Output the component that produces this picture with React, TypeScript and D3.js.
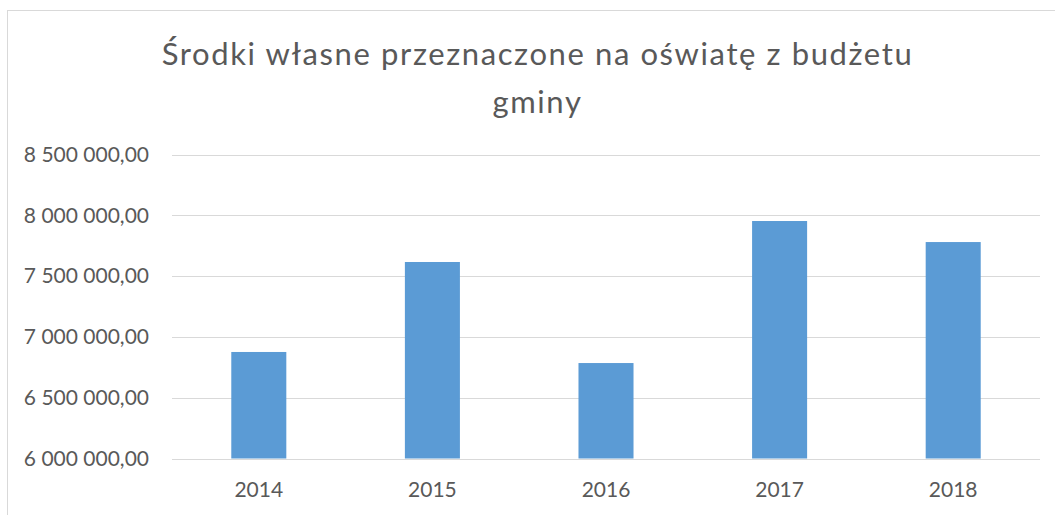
import React from "react";
import * as d3 from "d3";

const title = ["Środki własne przeznaczone na oświatę z budżetu", "gminy"];
const years = ["2014", "2015", "2016", "2017", "2018"];
const values = [6876000, 7616000, 6785000, 7953000, 7780000];
const yTicks = [6000000, 6500000, 7000000, 7500000, 8000000, 8500000];

const W = 1055;
const H = 515;
const FONT = "Lato, 'Open Sans', sans-serif";

function fmt(v: number): string {
  const s = Math.round(v).toString();
  const grouped = s.replace(/\B(?=(\d{3})+(?!\d))/g, " ");
  return grouped + ",00";
}

export default function App() {
  const x = d3.scaleBand<string>().domain(years).range([172, 1040]).paddingInner(0.683).paddingOuter(0.3415);
  const y = d3.scaleLinear().domain([6000000, 8500000]).range([458.5, 154.5]);
  return (
    <svg width={W} height={H} style={{ position: "absolute", left: 0, top: 0, background: "#fff" }}>
      <rect x={7.5} y={10.5} width={1200} height={700} fill="#fff" stroke="#D9D9D9" strokeWidth={1} />
      <g fontFamily={FONT} fill="#595959">
        <text x={537.5} y={65} fontSize={31} letterSpacing={1.6} textAnchor="middle">{title[0]}</text>
        <text x={537.5} y={113} fontSize={31} letterSpacing={1.6} textAnchor="middle">{title[1]}</text>
      </g>
      {yTicks.map((t) => (
        <g key={t}>
          <line x1={172} x2={1040} y1={Math.round(y(t)) + 0.5} y2={Math.round(y(t)) + 0.5} stroke="#D9D9D9" strokeWidth={1} />
          <text x={149} y={y(t)} dy="0.35em" textAnchor="end" fontFamily={FONT} fontSize={21} fill="#595959">{fmt(t)}</text>
        </g>
      ))}
      {years.map((yr, i) => (
        <rect key={yr} x={x(yr)} y={y(values[i])} width={x.bandwidth()} height={y(6000000) - y(values[i])} fill="#5B9BD5" />
      ))}
      {years.map((yr) => (
        <text key={yr} x={(x(yr) as number) + x.bandwidth() / 2} y={497} textAnchor="middle" fontFamily={FONT} fontSize={21} fill="#595959">{yr}</text>
      ))}
    </svg>
  );
}
